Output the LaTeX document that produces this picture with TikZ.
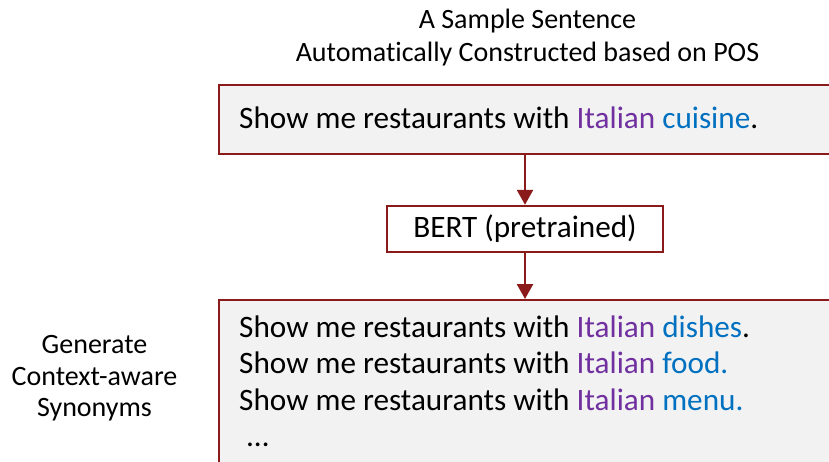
\documentclass[tikz,border=0pt]{standalone}
\usepackage{fontspec}
\setmainfont{Carlito}[Ligatures=NoCommon]
\usetikzlibrary{arrows.meta}
\definecolor{bordred}{HTML}{8B1A1A}
\definecolor{itpurple}{HTML}{7030A0}
\definecolor{itblue}{HTML}{0070C0}
\definecolor{boxgray}{HTML}{F2F2F2}
\begin{document}
\begin{tikzpicture}[x=1pt,y=-1pt,
  sentbox/.style={draw=bordred,fill=boxgray,line width=2.4pt,rectangle,anchor=north west,inner sep=0pt},
  bertbox/.style={draw=bordred,fill=white,line width=2.4pt,rectangle,minimum width=276pt,minimum height=46pt,inner sep=0pt,font=\fontsize{31.2}{37}\selectfont},
  bigtxt/.style={font=\fontsize{31.2}{37}\selectfont,anchor=base west,inner sep=0pt},
  captxt/.style={font=\fontsize{28}{33}\selectfont,anchor=base,inner sep=0pt},
  flow/.style={draw=bordred,line width=2.5pt,-{Triangle[length=15pt,width=16pt]}}]
\useasboundingbox (0,0) rectangle (829,461);
\clip (0,0) rectangle (829,461);
% title
\node[captxt] (t1) at (527.5,28) {A Sample Sentence};
\node[captxt] (t2) at (527.5,61) {Automatically Constructed based on POS};
% boxes
\node[sentbox,minimum width=650pt,minimum height=69pt] (top) at (218,83.5) {};
\node[bertbox] (bert) at (525,229) {BERT (pretrained)};
\node[sentbox,minimum width=650pt,minimum height=200pt] (bot) at (218,299) {};
% arrows
\draw[flow] (bert.north |- top.south) -- (bert.north);
\draw[flow] (bert.south) -- (bert.south |- bot.north);
% texts
\node[bigtxt] (s0) at (239,128) {Show me restaurants with \textcolor{itpurple}{Italian} \textcolor{itblue}{cuisine}.};
\node[bigtxt] (s1) at (239,337) {Show me restaurants with \textcolor{itpurple}{Italian} \textcolor{itblue}{dishes}.};
\node[bigtxt] (s2) at (239,373.5) {Show me restaurants with \textcolor{itpurple}{Italian} \textcolor{itblue}{food.}};
\node[bigtxt] (s3) at (239,410) {Show me restaurants with \textcolor{itpurple}{Italian} \textcolor{itblue}{menu.}};
\node[bigtxt] (s4) at (247,446) {…};
% left label
\node[captxt] (l1) at (94.5,353) {Generate};
\node[captxt] (l2) at (94.5,385) {Context-aware};
\node[captxt] (l3) at (94.5,416) {Synonyms};
\end{tikzpicture}
\end{document}
